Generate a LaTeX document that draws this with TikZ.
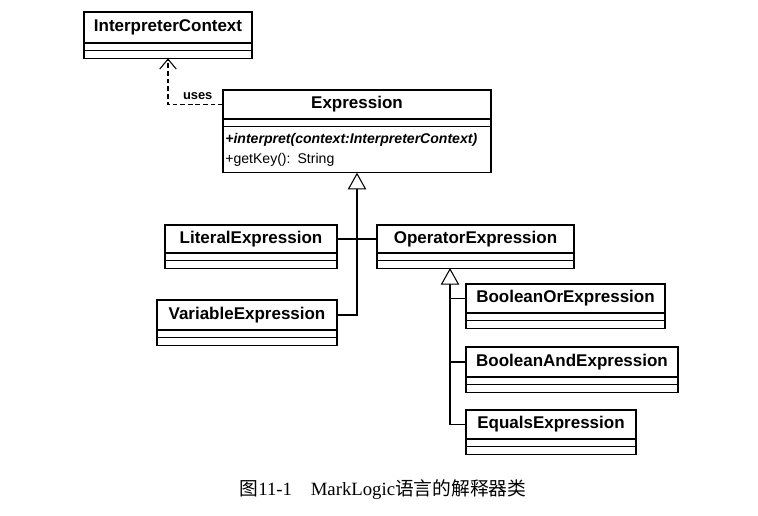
\documentclass[tikz,border=0pt]{standalone}
\usepackage{fontspec}
\setmainfont{Liberation Serif}
\setsansfont{Liberation Sans}
\newfontfamily\cjk{Noto Sans CJK SC}
\usetikzlibrary{arrows.meta, positioning}
\tikzset{>={Straight Barb[length=3mm,width=5mm]}}
\tikzset{
	cls/.style = {draw, anchor=north west, minimum height=0.88cm, inner sep=0pt, outer sep=0pt, font=\sffamily\bfseries\fontsize{14.5}{16}\selectfont},
	part/.style = {draw, minimum height=0.23cm, inner sep=0pt, outer sep=0pt},
	inherit/.style = {-{Triangle[open, length=5mm, width=5.5mm, fill=white]}}
}

\begin{document}
\begin{tikzpicture}[x=0.03cm, y=-0.03cm, line width=0.9pt, node distance=0pt]
		\useasboundingbox (0,0) rectangle (758,516);
		% classes
		\node (ic) [cls, minimum width=5.04cm, minimum height=0.93cm] at (84,12) {InterpreterContext};
		\node (ic-a) [part, minimum width=5.04cm, below=of ic] {};
		\node (ic-o) [part, minimum width=5.04cm, below=of ic-a] {};
		\node (expr) [cls, minimum width=8.04cm, minimum height=0.87cm] at (223,90) {Expression};
		\node (expr-a) [part, minimum width=8.04cm, below=of expr] {};
		\node (expr-o) [part, text width=7.9cm, inner xsep=0.07cm, minimum height=1.38cm, align=left,
			font=\sffamily\fontsize{12}{17}\selectfont, below=of expr-a]
			{\textbf{\textit{+interpret(context:InterpreterContext)}}\\+getKey(): String};
		\node (lit) [cls, minimum width=5.16cm, minimum height=0.84cm] at (165,225) {LiteralExpression};
		\node (lit-a) [part, minimum width=5.16cm, below=of lit] {};
		\node (lit-o) [part, minimum width=5.16cm, below=of lit-a] {};
		\node (var) [cls, minimum width=5.4cm, minimum height=0.9cm] at (157,300) {VariableExpression};
		\node (var-a) [part, minimum width=5.4cm, below=of var] {};
		\node (var-o) [part, minimum width=5.4cm, below=of var-a] {};
		\node (op) [cls, minimum width=5.91cm, minimum height=0.84cm] at (377,225) {OperatorExpression};
		\node (op-a) [part, minimum width=5.91cm, below=of op] {};
		\node (op-o) [part, minimum width=5.91cm, below=of op-a] {};
		\node (bor) [cls, minimum width=5.97cm, minimum height=0.87cm] at (466,284) {BooleanOrExpression};
		\node (bor-a) [part, minimum width=5.97cm, below=of bor] {};
		\node (bor-o) [part, minimum width=5.97cm, below=of bor-a] {};
		\node (band) [cls, minimum width=6.36cm, minimum height=0.9cm] at (466,347) {BooleanAndExpression};
		\node (band-a) [part, minimum width=6.36cm, below=of band] {};
		\node (band-o) [part, minimum width=6.36cm, below=of band-a] {};
		\node (eq) [cls, minimum width=5.1cm, minimum height=0.87cm] at (466,410) {EqualsExpression};
		\node (eq-a) [part, minimum width=5.1cm, below=of eq] {};
		\node (eq-o) [part, minimum width=5.1cm, below=of eq-a] {};
		% relations
		\draw[dash pattern=on 4pt off 2.5pt, ->] (expr.west) -| node [pos=0.23, above, font=\sffamily\bfseries\fontsize{11}{13}\selectfont] {uses} (ic-o.south);
		\draw[inherit] (var.east) -| (expr-o.south);
		\draw (lit.east) -- (op.west);
		\coordinate (trunk) at (450,268);
		\draw[inherit] (eq.west) -| (trunk);
		\draw (bor.west) -- (bor.west -| trunk);
		\draw (band.west) -- (band.west -| trunk);
		% caption
		\node (cap) at (383,490) [font=\fontsize{16}{18}\selectfont] {{\cjk 图}11-1\hspace{1em}MarkLogic{\cjk 语言的解释器类}};
\end{tikzpicture}
\end{document}
